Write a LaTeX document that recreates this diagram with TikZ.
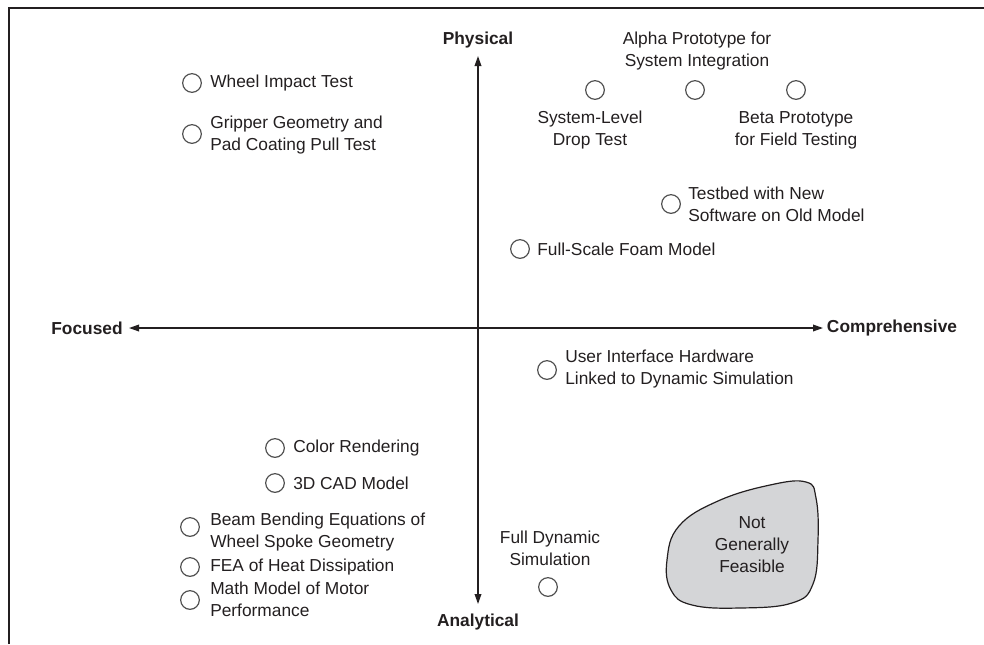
\documentclass[tikz,border=0pt]{standalone}
\usepackage{fontspec}
\setmainfont{Liberation Sans}
\usetikzlibrary{arrows.meta}
\definecolor{ink}{HTML}{231F20}
\definecolor{ringgray}{HTML}{505050}
\definecolor{blobfill}{HTML}{D4D5D7}
\begin{document}
\begin{tikzpicture}[x=0.75pt,y=-0.75pt,
  txt/.style={inner sep=0pt,text=ink,font=\fontsize{13}{16.5}\selectfont},
  lbl/.style={txt,anchor=west,align=left},
  ctr/.style={txt,align=center},
  axislabel/.style={inner sep=0pt,text=ink,font=\fontsize{13}{16}\selectfont\bfseries},
  ring/.style={circle,draw=ringgray,line width=0.9pt,minimum size=14pt,inner sep=0pt},
  axis/.style={draw=ink,line width=1pt,{Triangle[length=7.5pt,width=5pt]}-{Triangle[length=7.5pt,width=5pt]}},
  frame/.style={draw=ink,line width=1.6pt}
]
\useasboundingbox (0,0) rectangle (984,644);

% frame: top and left edges only
\coordinate (fl) at (9,644);
\coordinate (fc) at (9,8);
\coordinate (fr) at (984,8);
\draw[frame] (fl) -- (fc) -- (fr);

% axes
\node[axislabel] (phys) at (478,40) {Physical};
\node[axislabel] (anal) at (478,622) {Analytical};
\node[axislabel] (foc) at (87,328) {Focused};
\node[axislabel] (comp) at (892,328) {Comprehensive};
\coordinate (vtop) at (478,56);
\coordinate (vbot) at (478,604);
\coordinate (hleft) at (129,328);
\coordinate (hright) at (823,328);
\draw[axis] (vtop) -- (vbot);
\draw[axis] (hleft) -- (hright);

% upper left quadrant
\node[ring] (c1) at (192,83) {};
\node[lbl] (t1) at (210,83) {Wheel Impact Test};
\node[ring] (c2) at (192,134) {};
\node[lbl] (t2) at (210,135) {Gripper Geometry and\\Pad Coating Pull Test};

% upper right quadrant
\node[ctr] (t3) at (697,51) {Alpha Prototype for\\System Integration};
\node[ring] (c3) at (595,90) {};
\node[ring] (c4) at (695,90) {};
\node[ring] (c5) at (796,90) {};
\node[ctr] (t4) at (590,130) {System-Level\\Drop Test};
\node[ctr] (t5) at (796,130) {Beta Prototype\\for Field Testing};
\node[ring] (c6) at (671,204) {};
\node[lbl] (t6) at (688,204) {Testbed with New\\Software on Old Model};
\node[ring] (c7) at (520,249) {};
\node[lbl] (t7) at (537,249) {Full-Scale Foam Model};

% lower right quadrant
\node[ring] (c8) at (547,370) {};
\node[lbl] (t8) at (565,369) {User Interface Hardware\\Linked to Dynamic Simulation};
\node[ctr] (t9) at (550,548) {Full Dynamic\\Simulation};
\node[ring] (c9) at (548,587) {};

\path[draw=ink,line width=0.9pt,fill=blobfill]
  plot[smooth cycle,tension=0.7] coordinates {
    (806,482) (816,498) (818,540) (813,584) (792,603) (740,608)
    (692,605) (671,590) (667,560) (679,526) (718,501) (770,485)};
\node[ctr] (t10) at (752,545) {Not\\Generally\\Feasible};

% lower left quadrant
\node[ring] (c10) at (275,448) {};
\node[lbl] (t11) at (293,448) {Color Rendering};
\node[ring] (c11) at (275,483) {};
\node[lbl] (t12) at (293,483) {3D CAD Model};
\node[ring] (c12) at (190,527) {};
\node[lbl] (t13) at (210,532) {Beam Bending Equations of\\Wheel Spoke Geometry};
\node[ring] (c13) at (190,567) {};
\node[lbl] (t14) at (210,567) {FEA of Heat Dissipation};
\node[ring] (c14) at (190,600) {};
\node[lbl] (t15) at (210,599) {Math Model of Motor\\Performance};
\end{tikzpicture}
\end{document}
